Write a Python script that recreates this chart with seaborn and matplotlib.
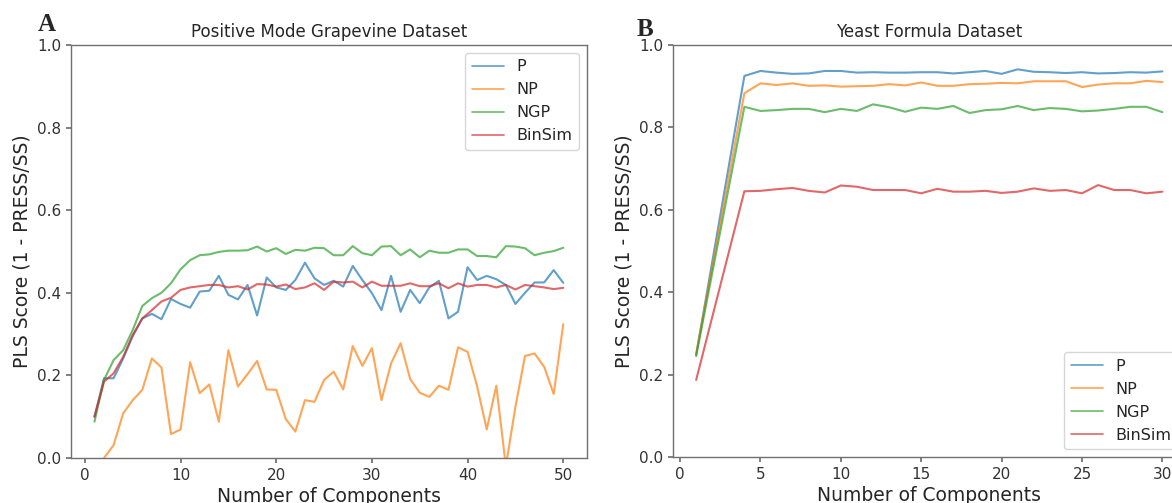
import numpy as np
import pandas as pd
import matplotlib
matplotlib.use("Agg")
import matplotlib.pyplot as plt
import seaborn as sns

# -- data --
methods = ["P", "NP", "NGP", "BinSim"]

# panel A: positive mode grapevine, 1..50 components
grape_x = list(range(1, 51))
grape_P = [0.100, 0.193, 0.193, 0.241, 0.295, 0.338, 0.349, 0.336, 0.385, 0.373,
           0.364, 0.403, 0.405, 0.441, 0.395, 0.384, 0.419, 0.345, 0.437, 0.413,
           0.407, 0.431, 0.473, 0.435, 0.419, 0.429, 0.415, 0.465, 0.431, 0.399,
           0.358, 0.441, 0.354, 0.407, 0.375, 0.413, 0.429, 0.338, 0.354, 0.462,
           0.431, 0.441, 0.433, 0.419, 0.373, 0.400, 0.425, 0.425, 0.455, 0.424]
grape_NP = [-0.120, 0.000, 0.031, 0.108, 0.140, 0.165, 0.241, 0.219, 0.058, 0.069,
            0.232, 0.157, 0.178, 0.088, 0.261, 0.173, 0.203, 0.235, 0.166, 0.165,
            0.094, 0.064, 0.140, 0.136, 0.189, 0.209, 0.166, 0.271, 0.223, 0.266,
            0.140, 0.229, 0.278, 0.191, 0.158, 0.148, 0.175, 0.165, 0.268, 0.257,
            0.173, 0.069, 0.175, -0.020, 0.124, 0.247, 0.253, 0.221, 0.155, 0.324]
grape_NGP = [0.088, 0.189, 0.237, 0.261, 0.310, 0.368, 0.387, 0.400, 0.423, 0.457,
             0.479, 0.491, 0.493, 0.499, 0.502, 0.502, 0.503, 0.512, 0.500, 0.508,
             0.494, 0.504, 0.502, 0.509, 0.508, 0.491, 0.491, 0.513, 0.496, 0.491,
             0.512, 0.513, 0.491, 0.505, 0.486, 0.502, 0.497, 0.497, 0.505, 0.505,
             0.489, 0.489, 0.486, 0.513, 0.512, 0.508, 0.491, 0.497, 0.501, 0.509]
grape_BinSim = [0.100, 0.185, 0.205, 0.245, 0.298, 0.338, 0.358, 0.379, 0.388, 0.407,
                0.413, 0.416, 0.419, 0.419, 0.413, 0.416, 0.408, 0.421, 0.420, 0.415,
                0.420, 0.409, 0.413, 0.423, 0.407, 0.427, 0.425, 0.427, 0.413, 0.427,
                0.417, 0.417, 0.417, 0.423, 0.416, 0.416, 0.423, 0.411, 0.423, 0.415,
                0.419, 0.419, 0.413, 0.419, 0.408, 0.419, 0.416, 0.413, 0.409, 0.412]

# panel B: yeast formula, components 1 and 4..30
yeast_x = [1] + list(range(4, 31))
yeast_P = [0.248, 0.925, 0.937, 0.933, 0.930, 0.931, 0.937, 0.937, 0.933, 0.934,
           0.933, 0.933, 0.934, 0.934, 0.931, 0.934, 0.937, 0.930, 0.941, 0.935,
           0.934, 0.932, 0.934, 0.931, 0.932, 0.934, 0.933, 0.936]
yeast_NP = [0.250, 0.883, 0.907, 0.903, 0.907, 0.901, 0.902, 0.899, 0.900, 0.901,
            0.905, 0.902, 0.909, 0.901, 0.901, 0.905, 0.906, 0.908, 0.907, 0.912,
            0.912, 0.912, 0.898, 0.904, 0.907, 0.907, 0.913, 0.910]
yeast_NGP = [0.245, 0.850, 0.840, 0.842, 0.845, 0.845, 0.837, 0.845, 0.840, 0.856,
             0.849, 0.838, 0.848, 0.845, 0.852, 0.835, 0.842, 0.844, 0.852, 0.842,
             0.847, 0.845, 0.839, 0.841, 0.845, 0.850, 0.850, 0.837]
yeast_BinSim = [0.187, 0.645, 0.646, 0.650, 0.653, 0.646, 0.642, 0.659, 0.656, 0.648,
                0.648, 0.648, 0.640, 0.651, 0.644, 0.644, 0.646, 0.641, 0.644, 0.652,
                0.646, 0.648, 0.640, 0.660, 0.648, 0.648, 0.640, 0.644]


def long_form(x, series):
    frames = []
    for name, vals in zip(methods, series):
        frames.append(pd.DataFrame({"n": x, "score": vals, "method": name}))
    return pd.concat(frames, ignore_index=True)


df_grape = long_form(grape_x, [grape_P, grape_NP, grape_NGP, grape_BinSim])
df_yeast = long_form(yeast_x, [yeast_P, yeast_NP, yeast_NGP, yeast_BinSim])

sns.set_theme(style="ticks")
plt.rcParams.update({
    "font.family": ["DejaVu Sans"],
    "axes.edgecolor": "#707070",
    "axes.linewidth": 1.0,
    "xtick.color": "#707070",
    "ytick.color": "#707070",
    "xtick.labelcolor": "#333333",
    "ytick.labelcolor": "#333333",
    "xtick.major.size": 3.5,
    "ytick.major.size": 3.5,
    "xtick.labelsize": 11,
    "ytick.labelsize": 11,
    "text.color": "#262626",
    "axes.labelcolor": "#262626",
})

palette = sns.color_palette("tab10", 4)

fig = plt.figure(figsize=(11.72, 5.03), dpi=100)
ax1 = fig.add_axes([0.0606, 0.0895, 0.440, 0.821])
ax2 = fig.add_axes([0.5741, 0.0915, 0.4376, 0.819])

panels = [
    (ax1, df_grape, "Positive Mode Grapevine Dataset", "upper right", [0, 10, 20, 30, 40, 50]),
    (ax2, df_yeast, "Yeast Formula Dataset", "lower right", [0, 5, 10, 15, 20, 25, 30]),
]

for ax, d, title, loc, xt in panels:
    sns.lineplot(data=d, x="n", y="score", hue="method", hue_order=methods,
                 palette=palette, alpha=0.7, linewidth=1.5, ax=ax)
    ax.set_ylim(0, 1.0)
    ax.set_xticks(xt)
    ax.set_yticks([0.0, 0.2, 0.4, 0.6, 0.8, 1.0])
    ax.set_title(title, fontsize=12)
    ax.set_xlabel("Number of Components", fontsize=13.5, labelpad=3)
    ax.set_ylabel("PLS Score (1 - PRESS/SS)", fontsize=13.5)
    leg = ax.legend(loc=loc, fontsize=11.5, title=None)
    for ln in leg.get_lines():
        ln.set_alpha(0.7)
        ln.set_linewidth(1.2)

ax1.set_xlim(-1.45, 52.45)
ax2.set_xlim(-0.45, 31.45)

fig.text(0.0324, 0.938, "A", fontsize=18, fontweight="bold", family="Liberation Serif")
fig.text(0.5435, 0.928, "B", fontsize=18, fontweight="bold", family="Liberation Serif")

fig.savefig("out.png", dpi=100)
